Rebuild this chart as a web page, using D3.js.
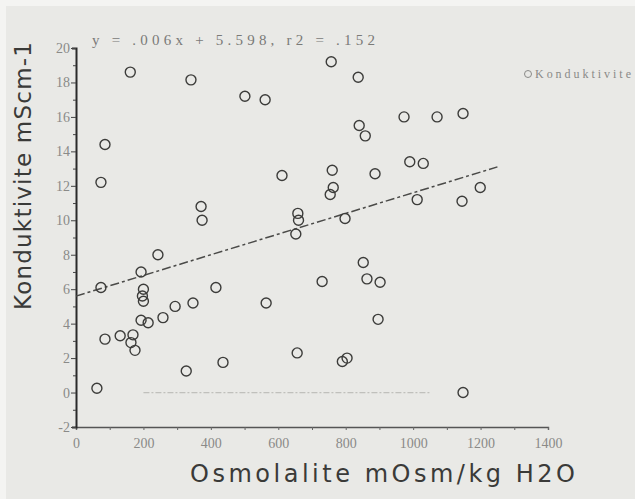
<!DOCTYPE html>
<meta charset="utf-8">
<style>
    body {
        margin: 0;
        background-color: #f4f4f2;
    }

    #chart {
        width: 635px;
        height: 499px;
        display: block;
    }

    .tick text {
        font-family: "Liberation Serif", "DejaVu Serif", serif;
        font-size: 14px;
        fill: #8a8a88;
    }
</style>

<body>
    <svg id="chart"></svg>
</body>

<script src="https://d3js.org/d3.v7.min.js"></script>
<script>
    // Osmolalite (mOsm/kg H2O) vs konduktivite (mScm-1)
    var osmolalite = [161, 341, 501, 561, 86, 74, 371, 374, 757, 837, 973, 1071, 1148, 840, 858, 990, 1030,
        760, 611, 887, 763, 754, 1012, 658, 660, 652, 798, 1199, 1145, 852, 730, 863, 902, 896, 656, 804, 790,
        1148, 243, 193, 74, 200, 197, 200, 415, 294, 347, 564, 258, 193, 214, 86, 131, 169, 163, 175, 436,
        327, 62];
    var konduktivite = [18.6, 18.15, 17.2, 17.0, 14.4, 12.2, 10.8, 10.0, 19.2, 18.3, 16.0, 16.0, 16.2, 15.5,
        14.9, 13.4, 13.3, 12.9, 12.6, 12.7, 11.9, 11.5, 11.2, 10.4, 10.0, 9.2, 10.1, 11.9, 11.1, 7.55, 6.45,
        6.6, 6.4, 4.25, 2.3, 2.0, 1.8, 0.0, 8.0, 7.0, 6.1, 6.0, 5.6, 5.3, 6.1, 5.0, 5.2, 5.2, 4.35, 4.2, 4.05,
        3.1, 3.3, 3.35, 2.9, 2.45, 1.75, 1.25, 0.25];

    var xTicks = [0, 200, 400, 600, 800, 1000, 1200, 1400],
        yTicks = [-2, 0, 2, 4, 6, 8, 10, 12, 14, 16, 18, 20];

    // regression from the chart header: y = .006x + 5.598
    var slope = 0.006,
        intercept = 5.598,
        fitRange = [0, 1250];

    var titleText = "y = .006x + 5.598, r2 = .152",
        legendText = "Konduktivite",
        xLabel = "Osmolalite mOsm/kg H2O",
        yLabel = "Konduktivite mScm-1";

    var svg = d3.select("#chart");

    var x = d3.scaleLinear().domain([0, 1400]).range([76, 548]),
        y = d3.scaleLinear().domain([-2, 20]).range([427, 48]);

    // scanned page look
    svg.append("rect").attr("x", 6).attr("y", 6).attr("width", 629).attr("height", 493)
        .attr("fill", "#e9e9e6");

    // faint stray rule at zero
    svg.append("line")
        .attr("x1", x(200)).attr("x2", x(1050))
        .attr("y1", y(0)).attr("y2", y(0))
        .attr("stroke", "#c0c0bc").attr("stroke-width", 1.2)
        .attr("stroke-dasharray", "6,2,2,2");

    // x axis
    var xAxis = svg.append("g")
        .attr("transform", "translate(0," + y(-2) + ")")
        .call(d3.axisBottom(x).tickValues(d3.range(0, 1401, 100)).tickSize(3)
            .tickFormat(function (d) {
                return xTicks.indexOf(d) >= 0 ? d : "";
            }));
    xAxis.select(".domain").attr("stroke", "#555").attr("stroke-width", 1.4);
    xAxis.selectAll(".tick line").attr("stroke", "#666");
    xAxis.selectAll(".tick text").attr("dy", "1.1em");

    // y axis
    var yAxis = svg.append("g")
        .attr("transform", "translate(" + x(0) + ",0)")
        .call(d3.axisLeft(y).tickValues(d3.range(-2, 20.5, 1)).tickSize(4)
            .tickFormat(function (d) {
                return yTicks.indexOf(d) >= 0 ? d : "";
            }));
    yAxis.select(".domain").attr("stroke", "#2a2a2a").attr("stroke-width", 2);
    yAxis.selectAll(".tick line").attr("stroke", "#444")
        .attr("x2", function (d) {
            return yTicks.indexOf(d) >= 0 ? -5 : -3;
        });
    yAxis.selectAll(".tick text").attr("x", -6);

    // fit line
    svg.append("line")
        .attr("x1", x(fitRange[0])).attr("y1", y(intercept + slope * fitRange[0]))
        .attr("x2", x(fitRange[1])).attr("y2", y(intercept + slope * fitRange[1]))
        .attr("stroke", "#4a4a48").attr("stroke-width", 1.5)
        .attr("stroke-dasharray", "9,3,3,3");

    // points
    svg.append("g").selectAll("circle")
        .data(d3.range(osmolalite.length))
        .join("circle")
        .attr("cx", function (i) {
            return x(osmolalite[i]);
        })
        .attr("cy", function (i) {
            return y(konduktivite[i]);
        })
        .attr("r", 5)
        .attr("fill", "none")
        .attr("stroke", "#3c3c3a")
        .attr("stroke-width", 1.4);

    // header text
    svg.append("text")
        .attr("x", 92).attr("y", 45)
        .attr("textLength", 283).attr("lengthAdjust", "spacing")
        .style("font-family", "'Liberation Serif', serif")
        .style("font-size", "15px")
        .attr("fill", "#7a7a78")
        .text(titleText);

    // legend
    svg.append("circle").attr("cx", 528).attr("cy", 74).attr("r", 3.5)
        .attr("fill", "none").attr("stroke", "#8a8a88").attr("stroke-width", 1);
    svg.append("text")
        .attr("x", 535).attr("y", 78)
        .attr("textLength", 96).attr("lengthAdjust", "spacing")
        .style("font-family", "'Liberation Serif', serif")
        .style("font-size", "12px")
        .attr("fill", "#8a8a88")
        .text(legendText);

    // axis titles
    svg.append("text")
        .attr("x", 190).attr("y", 482)
        .attr("textLength", 385).attr("lengthAdjust", "spacing")
        .style("font-family", "'DejaVu Sans', sans-serif")
        .style("font-size", "24px")
        .attr("fill", "#3a3a38")
        .text(xLabel);

    svg.append("text")
        .attr("transform", "translate(31,310)rotate(-90)")
        .attr("textLength", 268).attr("lengthAdjust", "spacing")
        .style("font-family", "'DejaVu Sans', sans-serif")
        .style("font-size", "23px")
        .attr("fill", "#3a3a38")
        .text(yLabel);
</script>
